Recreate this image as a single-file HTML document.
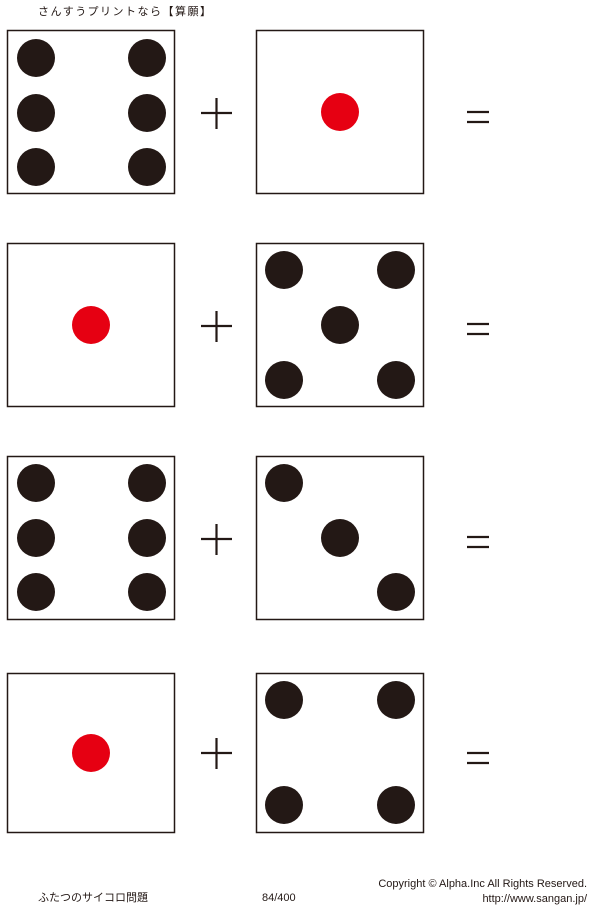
<!DOCTYPE html>
<html><head><meta charset="utf-8"><style>
body{margin:0;background:#fff;width:600px;height:907px;overflow:hidden}
svg{display:block}
text{font-family:"Liberation Sans","Noto Sans CJK JP",sans-serif;fill:#231815}
</style></head><body>
<svg width="600" height="907" viewBox="0 0 600 907">
<text x="38" y="15" font-size="11" letter-spacing="1.5">さんすうプリントなら【算願】</text>
<g fill="none" stroke="#231815" stroke-width="1.5">
<rect x="7.5" y="30.5" width="167" height="163"/>
<rect x="256.5" y="30.5" width="167" height="163"/>
<rect x="7.5" y="243.5" width="167" height="163"/>
<rect x="256.5" y="243.5" width="167" height="163"/>
<rect x="7.5" y="456.5" width="167" height="163"/>
<rect x="256.5" y="456.5" width="167" height="163"/>
<rect x="7.5" y="673.5" width="167" height="159"/>
<rect x="256.5" y="673.5" width="167" height="159"/>
</g>
<g fill="#231815">
<circle cx="36" cy="58" r="19"/><circle cx="147" cy="58" r="19"/>
<circle cx="36" cy="113" r="19"/><circle cx="147" cy="113" r="19"/>
<circle cx="36" cy="167" r="19"/><circle cx="147" cy="167" r="19"/>
<circle cx="284" cy="270" r="19"/><circle cx="396" cy="270" r="19"/>
<circle cx="340" cy="325" r="19"/>
<circle cx="284" cy="380" r="19"/><circle cx="396" cy="380" r="19"/>
<circle cx="36" cy="483" r="19"/><circle cx="147" cy="483" r="19"/>
<circle cx="36" cy="538" r="19"/><circle cx="147" cy="538" r="19"/>
<circle cx="36" cy="592" r="19"/><circle cx="147" cy="592" r="19"/>
<circle cx="284" cy="483" r="19"/><circle cx="340" cy="538" r="19"/><circle cx="396" cy="592" r="19"/>
<circle cx="284" cy="700" r="19"/><circle cx="396" cy="700" r="19"/>
<circle cx="284" cy="805" r="19"/><circle cx="396" cy="805" r="19"/>
</g>
<g fill="#e60012">
<circle cx="340" cy="112" r="19"/>
<circle cx="91" cy="325" r="19"/>
<circle cx="91" cy="753" r="19"/>
</g>
<g stroke="#231815" stroke-width="2.2">
<path d="M201 113h31M216.5 98v31"/>
<path d="M201 326h31M216.5 311v31"/>
<path d="M201 539h31M216.5 524v31"/>
<path d="M201 753h31M216.5 738v31"/>
<path d="M467 112h22M467 122h22"/>
<path d="M467 324h22M467 334h22"/>
<path d="M467 537h22M467 547h22"/>
<path d="M467 753h22M467 763h22"/>
</g>
<text x="38" y="901" font-size="11">ふたつのサイコロ問題</text>
<text x="262" y="901" font-size="11">84/400</text>
<text x="587" y="887" font-size="11" text-anchor="end">Copyright ©  Alpha.Inc All Rights Reserved.</text>
<text x="587" y="902" font-size="11" text-anchor="end">http://www.sangan.jp/</text>
</svg>
</body></html>
